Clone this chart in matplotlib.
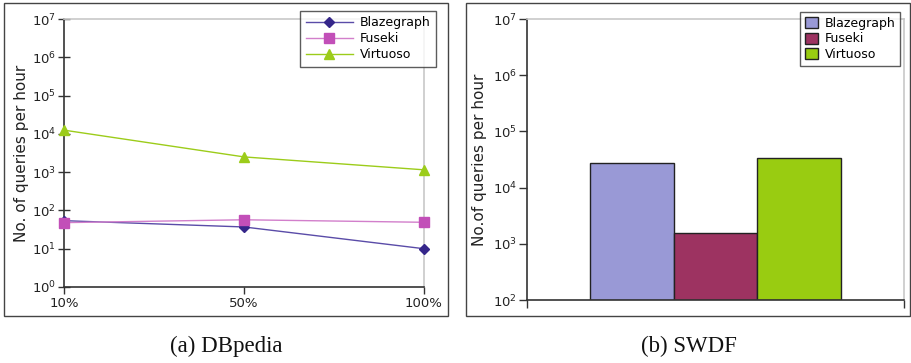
import matplotlib
matplotlib.use("Agg")
import matplotlib.pyplot as plt
from matplotlib.patches import Rectangle
from matplotlib.ticker import LogLocator, LogFormatterMathtext, NullLocator

# ---- data ----
sizes = ["10%", "50%", "100%"]
systems = ["Blazegraph", "Fuseki", "Virtuoso"]
dbpedia_blazegraph = [54, 37, 10]
dbpedia_fuseki = [48, 57, 49]
dbpedia_virtuoso = [12500, 2500, 1150]
swdf_values = [27000, 1480, 33000]

line_colors = ["#35268a", "#c24fb8", "#9ccc1a"]
line_light = ["#5a4ca8", "#d27fcb", "#9ccc1a"]
markers = ["D", "s", "^"]
bar_colors = ["#9999d6", "#9d3361", "#99cc11"]

W, H = 911, 363
fig = plt.figure(figsize=(W / 100, H / 100), dpi=100)
plt.rcParams["font.family"] = "DejaVu Sans"

def fx(px):
    return px / W

def fy(py):
    return 1 - py / H

# outer frames
for x0, x1 in [(4, 448), (466, 910)]:
    fig.patches.append(Rectangle((fx(x0), fy(316)), fx(x1 - x0), (316 - 3) / H,
                                 transform=fig.transFigure, fill=False,
                                 edgecolor="#444444", linewidth=1.0))

txtc = "#222222"

# ---- left panel ----
ax1 = fig.add_axes([fx(64), fy(287), fx(424 - 64), (287 - 19) / H])
xs = [0, 1, 2]
series = [dbpedia_blazegraph, dbpedia_fuseki, dbpedia_virtuoso]
msz = [5.5, 6.5, 7]
for i, (name, vals) in enumerate(zip(systems, series)):
    ax1.plot(xs, vals, color=line_light[i],
             linewidth=1.0, marker=markers[i], markersize=msz[i],
             markerfacecolor=line_colors[i], markeredgecolor=line_colors[i],
             label=name, clip_on=False, zorder=3)
ax1.set_yscale("log")
ax1.set_ylim(1, 1e7)
ax1.set_xlim(0, 2)
ax1.set_xticks(xs)
ax1.set_xticklabels(sizes)
ax1.yaxis.set_major_locator(LogLocator(base=10, numticks=10))
ax1.yaxis.set_major_formatter(LogFormatterMathtext())
ax1.yaxis.set_minor_locator(NullLocator())
ax1.tick_params(axis="y", direction="inout", length=9, width=1.0, colors="#333333",
                labelsize=9.5, labelcolor=txtc, pad=1)
ax1.tick_params(axis="x", direction="out", length=5, width=1.0, colors="#333333",
                labelsize=9.5, labelcolor=txtc, pad=2)
for s in ["left", "bottom"]:
    ax1.spines[s].set_color("#333333")
    ax1.spines[s].set_linewidth(1.2)
for s in ["top", "right"]:
    ax1.spines[s].set_color("#c8c8c8")
    ax1.spines[s].set_linewidth(1.2)
ax1.set_ylabel("No. of queries per hour", fontsize=11, color=txtc, labelpad=2)
leg1 = ax1.legend(loc="upper right", bbox_to_anchor=(1.033, 1.030), fontsize=9,
                  frameon=True, fancybox=False, edgecolor="#333333",
                  handlelength=3.8, borderpad=0.42, labelspacing=0.25,
                  handletextpad=0.55, borderaxespad=0)
leg1.get_frame().set_linewidth(1.0)

# ---- right panel ----
ax2 = fig.add_axes([fx(527), fy(300), fx(904 - 527), (300 - 19) / H])
bx = [-1, 0, 1]
for i in range(3):
    ax2.bar(bx[i], swdf_values[i], width=1.0, bottom=100, color=bar_colors[i],
            edgecolor="#222222", linewidth=1.0, label=systems[i], zorder=2)
ax2.set_yscale("log")
ax2.set_ylim(100, 1e7)
ax2.set_xlim(-2.25, 2.25)
ax2.set_xticks([-2.25, 2.25])
ax2.set_xticklabels(["", ""])
ax2.yaxis.set_major_locator(LogLocator(base=10, numticks=10))
ax2.yaxis.set_major_formatter(LogFormatterMathtext())
ax2.yaxis.set_minor_locator(NullLocator())
ax2.tick_params(axis="y", direction="out", length=6, width=1.0, colors="#333333",
                labelsize=9.5, labelcolor=txtc, pad=1)
ax2.tick_params(axis="x", direction="out", length=6, width=1.0, colors="#333333")
for s in ["left", "bottom"]:
    ax2.spines[s].set_color("#333333")
    ax2.spines[s].set_linewidth(1.2)
for s in ["top", "right"]:
    ax2.spines[s].set_color("#c8c8c8")
    ax2.spines[s].set_linewidth(1.2)
ax2.set_ylabel("No.of queries per hour", fontsize=11, color=txtc, labelpad=4)
leg2 = ax2.legend(loc="upper right", bbox_to_anchor=(0.99, 1.025), fontsize=9,
                  frameon=True, fancybox=False, edgecolor="#333333",
                  handlelength=1.05, handleheight=1.0, borderpad=0.4,
                  labelspacing=0.2, handletextpad=0.5, borderaxespad=0)
leg2.get_frame().set_linewidth(1.0)

# captions
fig.text(fx(226), fy(346), "(a) DBpedia", ha="center", va="center",
         fontsize=16.5, family="Liberation Serif", color="#111111")
fig.text(fx(689), fy(346), "(b) SWDF", ha="center", va="center",
         fontsize=16.5, family="Liberation Serif", color="#111111")

fig.savefig("out.png", dpi=100)
